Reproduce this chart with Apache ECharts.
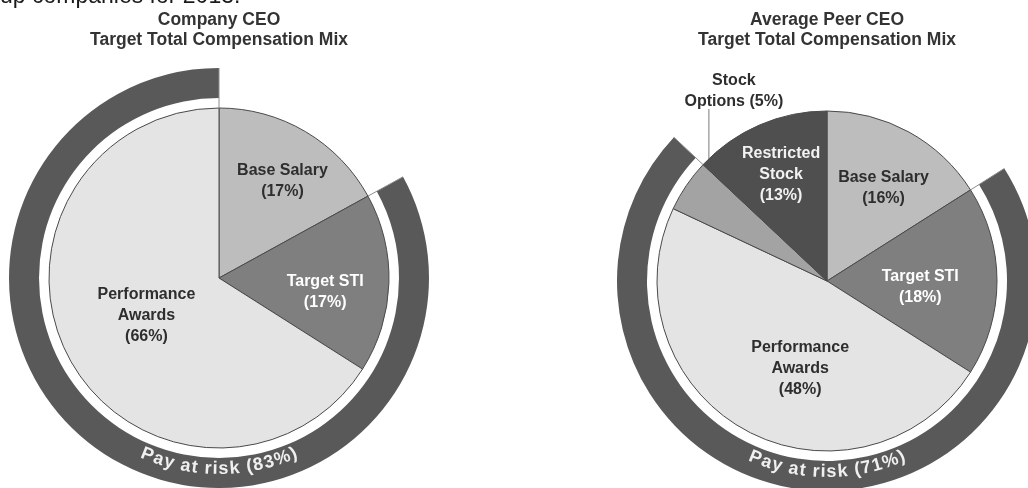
<!DOCTYPE html>
<html><head><meta charset="utf-8">
<script src="https://cdn.jsdelivr.net/npm/echarts@6/dist/echarts.min.js"></script>
<style>html,body{margin:0;padding:0;background:#fff}#c{width:1028px;height:488px}</style>
</head><body><div id="c"></div>
<script>
// ---------------- DATA ----------------
const headerText = 'up companies for 2013.';
const companyTitle = 'Company CEO\nTarget Total Compensation Mix';
const peerTitle = 'Average Peer CEO\nTarget Total Compensation Mix';
const companyCategories = ['Base Salary', 'Target STI', 'Performance Awards'];
const companyValues = [17, 17, 66];
const companyAtRisk = [false, true, true];
const peerCategories = ['Base Salary', 'Target STI', 'Performance Awards', 'Stock Options', 'Restricted Stock'];
const peerValues = [16, 18, 48, 5, 13];
const peerAtRisk = [false, true, true, true, false];
const ringText = 'Pay at risk';
const displayNames = {
  'Base Salary': 'Base Salary', 'Target STI': 'Target STI', 'Performance Awards': 'Performance\nAwards',
  'Stock Options': 'Stock\nOptions', 'Restricted Stock': 'Restricted\nStock'
};

// ---------------- STYLE / LAYOUT ----------------
const FONT = '"Liberation Sans", Arial, Helvetica, sans-serif';
const sliceColors = {
  'Base Salary': '#bdbdbd', 'Target STI': '#7f7f7f', 'Performance Awards': '#e4e4e4',
  'Stock Options': '#a3a3a3', 'Restricted Stock': '#4f4f4f'
};
const labelColors = {
  'Base Salary': '#2e2e2e', 'Target STI': '#ffffff', 'Performance Awards': '#2e2e2e',
  'Stock Options': '#2e2e2e', 'Restricted Stock': '#f2f2f2'
};
const RING_COLOR = '#595959';
const R = 170, R_IN = 180, R_OUT = 210, R_TEXT = 191;
const panels = [
  { cx: 219, cy: 278, title: companyTitle, cats: companyCategories, vals: companyValues, risk: companyAtRisk,
    labelPos: { 'Base Salary': [0.68, 2.7], 'Target STI': [0.63, 5.7], 'Performance Awards': [0.48, 1.6] } },
  { cx: 827, cy: 281, title: peerTitle, cats: peerCategories, vals: peerValues, risk: peerAtRisk,
    labelPos: { 'Base Salary': [0.64, 2.5], 'Target STI': [0.55, 4], 'Performance Awards': [0.54, -11.8], 'Restricted Stock': [0.68, 0] },
    outside: { 'Stock Options': { anchor: 0.84, dx: 25, dy: -190 } } }
];

function polar(cx, cy, r, deg) { const a = deg * Math.PI / 180; return [cx + r * Math.sin(a), cy - r * Math.cos(a)]; }

const chart = echarts.init(document.getElementById('c'));
const series = [], graphic = [], titles = [];

const meas = document.createElement('canvas').getContext('2d');

panels.forEach((p, pi) => {
  const total = p.vals.reduce((a, b) => a + b, 0);
  const starts = []; let acc = 0;
  p.vals.forEach(v => { starts.push(acc / total * 360); acc += v; });
  const mids = p.vals.map((v, i) => starts[i] + v / total * 180);
  const outside = p.outside || {};

  titles.push({
    text: p.title, left: p.cx, top: 10, textAlign: 'center', padding: 0,
    textStyle: { fontFamily: FONT, fontSize: 17.5, fontWeight: 'bold', color: '#333', lineHeight: 20 }
  });

  // ring segments (merge consecutive at-risk categories)
  const segs = [];
  p.vals.forEach((v, i) => {
    const last = segs[segs.length - 1];
    if (last && last.risk === p.risk[i]) last.value += v; else segs.push({ risk: p.risk[i], value: v });
  });
  series.push({
    type: 'pie', center: [p.cx, p.cy], radius: [R_IN, R_OUT], startAngle: 90, clockwise: true,
    silent: true, animation: false, label: { show: false }, labelLine: { show: false },
    data: segs.map(s => ({ value: s.value, itemStyle: { color: s.risk ? RING_COLOR : 'rgba(0,0,0,0)' } }))
  });

  // main pie
  series.push({
    type: 'pie', center: [p.cx, p.cy], radius: [0, R], startAngle: 90, clockwise: true,
    silent: true, animation: false, avoidLabelOverlap: false,
    itemStyle: { borderColor: '#4a4a4a', borderWidth: 1 },
    label: {
      show: true, position: 'inside', fontFamily: FONT, fontSize: 16, fontWeight: 'bold', lineHeight: 21,
      align: 'center', verticalAlign: 'middle',
      formatter: prm => displayNames[prm.name] + (outside[prm.name] ? ' ' : '\n') + '(' + prm.value + '%)'
    },
    labelLine: { show: false },
    data: p.cats.map((c, i) => {
      const d = { name: c, value: p.vals[i], itemStyle: { color: sliceColors[c] }, label: { color: labelColors[c] } };
      if (outside[c]) {
        d.label.position = 'outside';
        d.labelLine = { show: true, lineStyle: { color: '#7a7a7a', width: 1 } };
      }
      return d;
    }),
    labelLayout: prm => {
      const i = prm.dataIndex, c = p.cats[i];
      if (outside[c]) {
        const o = outside[c];
        const a = polar(p.cx, p.cy, o.anchor * R, mids[i]);
        const top = p.cy - R - 2;
        return { x: a[0] + o.dx, y: p.cy + o.dy, align: 'center', verticalAlign: 'middle',
          labelLinePoints: [[a[0], a[1]], [a[0], top], [a[0], top]] };
      }
      const lp = p.labelPos[c] || [0.6, 0];
      const pt = polar(p.cx, p.cy, lp[0] * R, mids[i] + lp[1]);
      return { x: pt[0], y: pt[1], align: 'center', verticalAlign: 'middle' };
    }
  });

  // boundary lines at ring ends, extended to the ring's outer edge
  let a2 = 0;
  segs.forEach(s => {
    const sa = a2 / total * 360; a2 += s.value; const ea = a2 / total * 360;
    if (s.risk) {
      [sa, ea].forEach(ang => {
        const p1 = polar(p.cx, p.cy, R, ang), p2 = polar(p.cx, p.cy, R_OUT, ang);
        graphic.push({ type: 'line', silent: true, z: 10,
          shape: { x1: p1[0], y1: p1[1], x2: p2[0], y2: p2[1] },
          style: { stroke: '#8c8c8c', lineWidth: 1 } });
      });
    }
  });

  // curved "Pay at risk (xx%)" text
  const riskTotal = p.vals.reduce((s, v, i) => s + (p.risk[i] ? v : 0), 0);
  const txt = ringText + ' (' + riskTotal + '%)';
  const fsz = 18, spacing = 1.0;
  const font = 'bold ' + fsz + 'px ' + FONT;
  meas.font = font;
  const widths = [...txt].map(ch => meas.measureText(ch).width + spacing);
  const L = widths.reduce((a, b) => a + b, 0) - spacing;
  let s = 0;
  [...txt].forEach((ch, k) => {
    const w = widths[k] - spacing;
    const sc = s + w / 2; s += widths[k];
    const alpha = Math.PI + (L / 2 - sc) / R_TEXT;
    const x = p.cx + R_TEXT * Math.sin(alpha), y = p.cy - R_TEXT * Math.cos(alpha);
    graphic.push({ type: 'text', silent: true, z: 20, x: x, y: y, rotation: Math.PI - alpha,
      style: { text: ch, x: 0, y: 0, align: 'center', verticalAlign: 'middle', fill: '#f0f0f0', font: font } });
  });
});

graphic.push({ type: 'text', silent: true, left: 0, x: 0, y: -3,
  style: { text: headerText, x: 0, y: 0, align: 'left', verticalAlign: 'middle', fill: '#1a1a1a', font: '23px ' + FONT } });

chart.setOption({ animation: false, backgroundColor: '#ffffff', title: titles, series: series, graphic: graphic });
</script></body></html>
